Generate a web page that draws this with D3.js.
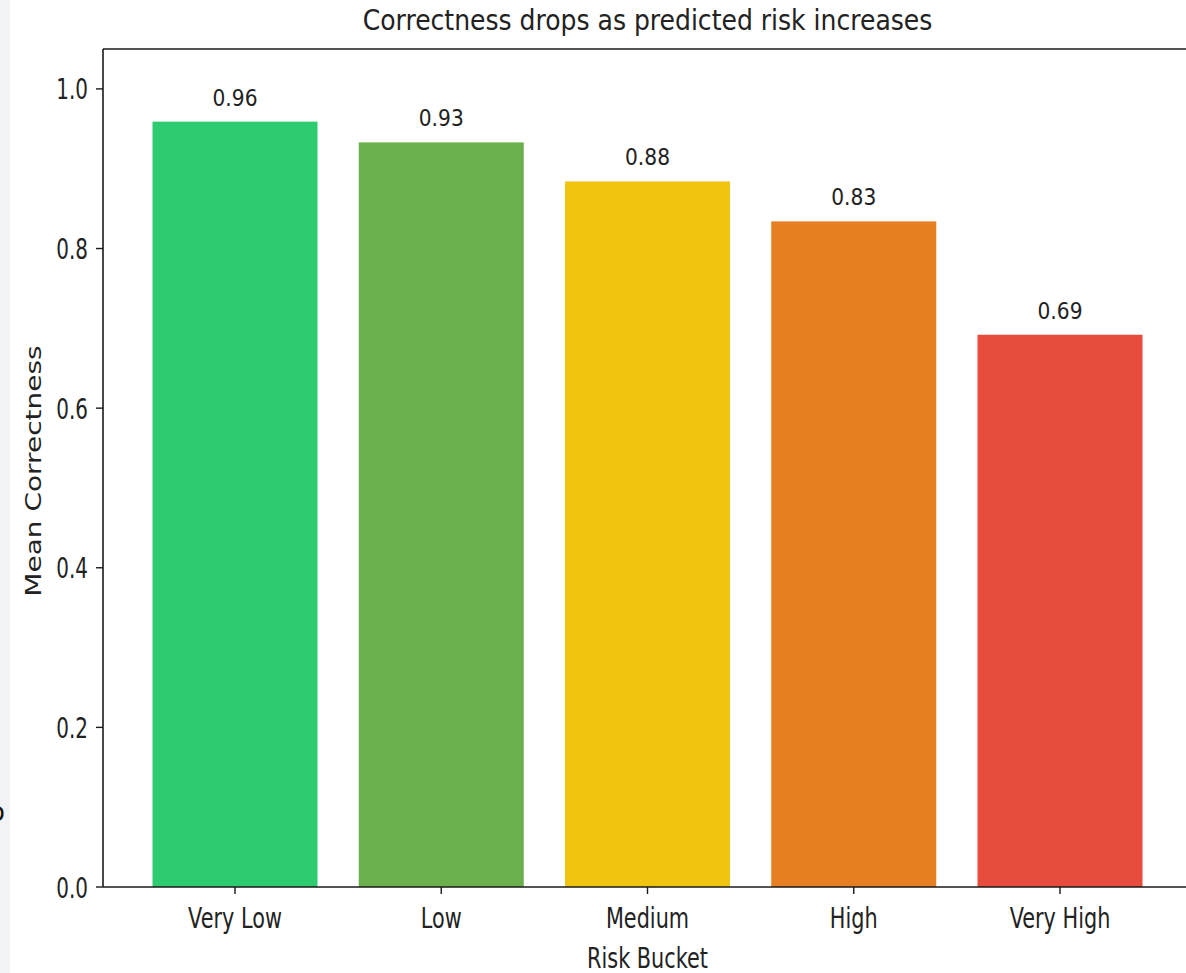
<!DOCTYPE html>
<html>
<head>
<meta charset="utf-8">
<script src="https://cdn.jsdelivr.net/npm/d3@7"></script>
<style>
  html, body { margin: 0; padding: 0; background: #fff; }
  svg { display: block; }
  text { font-family: "DejaVu Sans", sans-serif; fill: #222; }
</style>
</head>
<body>
<svg width="1186" height="973"></svg>
<script>
// data
var buckets = ["Very Low", "Low", "Medium", "High", "Very High"];
var correctness = [0.959, 0.933, 0.884, 0.834, 0.692];
var barColors = ["#2ecc71", "#6ab04c", "#f1c40f", "#e67e22", "#e74c3c"];
var yTicks = [0.0, 0.2, 0.4, 0.6, 0.8, 1.0];

var svg = d3.select("svg"),
    plotLeft = 103, plotRight = 1192, plotTop = 49, plotBottom = 887;

// light strip of the page behind, left edge
svg.append("rect").attr("x", 0).attr("y", 0).attr("width", 10).attr("height", 973)
    .style("fill", "#f2f3f7");
svg.append("text").attr("x", -11).attr("y", 821).style("font-size", "26px")
    .style("fill", "#111").text("o");

var x = d3.scaleBand()
    .domain(buckets)
    .range([plotLeft, plotRight])
    .paddingInner(0.2)
    .paddingOuter(0.24);

var y = d3.scaleLinear()
    .domain([0, 1.05])
    .range([plotBottom, plotTop]);

// text squeezed sideways like in the picture
function label(g, px, py, sx, txt, size, anchor, rot) {
    var t = "translate(" + px + "," + py + ") scale(" + sx + ",1)";
    if (rot) t += " rotate(" + rot + ")";
    return g.append("text")
        .attr("transform", t)
        .style("font-size", size + "px")
        .style("text-anchor", anchor)
        .text(txt);
}

var data = buckets.map(function(b, i) {
    return { bucket: b, value: correctness[i], color: barColors[i] };
});

// bars
svg.selectAll("rect.bar")
    .data(data)
    .enter()
    .append("rect")
    .attr("class", "bar")
    .attr("x", function(d) { return x(d.bucket); })
    .attr("width", x.bandwidth())
    .attr("y", function(d) { return y(d.value); })
    .attr("height", function(d) { return y(0) - y(d.value); })
    .style("fill", function(d) { return d.color; });

// value labels
var fmt = d3.format(".2f");
data.forEach(function(d) {
    label(svg, x(d.bucket) + x.bandwidth() / 2, y(d.value) - 16, 0.86, fmt(d.value), 23.5, "middle");
});

// spines
var axisColor = "#1a1a1a";
function spine(x1, y1, x2, y2) {
    svg.append("line").attr("x1", x1).attr("x2", x2).attr("y1", y1).attr("y2", y2)
        .style("stroke", axisColor).style("stroke-width", 1.6);
}
spine(plotLeft, plotTop, plotLeft, plotBottom);
spine(plotLeft, plotBottom, plotRight, plotBottom);
spine(plotLeft, plotTop, plotRight, plotTop);
spine(plotRight, plotTop, plotRight, plotBottom);

// y ticks
yTicks.forEach(function(v) {
    svg.append("line").attr("x1", plotLeft - 7).attr("x2", plotLeft).attr("y1", y(v)).attr("y2", y(v))
        .style("stroke", axisColor).style("stroke-width", 1.4);
    label(svg, 88, y(v) + 10.5, 0.7, v.toFixed(1), 28.5, "end");
});

// x ticks
buckets.forEach(function(b) {
    var cx = x(b) + x.bandwidth() / 2;
    svg.append("line").attr("x1", cx).attr("x2", cx).attr("y1", plotBottom).attr("y2", plotBottom + 7)
        .style("stroke", axisColor).style("stroke-width", 1.4);
    label(svg, cx, 928, 0.73, b, 28.5, "middle");
});

// titles
label(svg, (plotLeft + plotRight) / 2, 30, 0.88, "Correctness drops as predicted risk increases", 28.5, "middle");
label(svg, (plotLeft + plotRight) / 2, 968, 0.73, "Risk Bucket", 28.5, "middle");
label(svg, 41, (plotTop + plotBottom) / 2 + 3, 0.78, "Mean Correctness", 28, "middle", -90);
</script>
</body>
</html>
